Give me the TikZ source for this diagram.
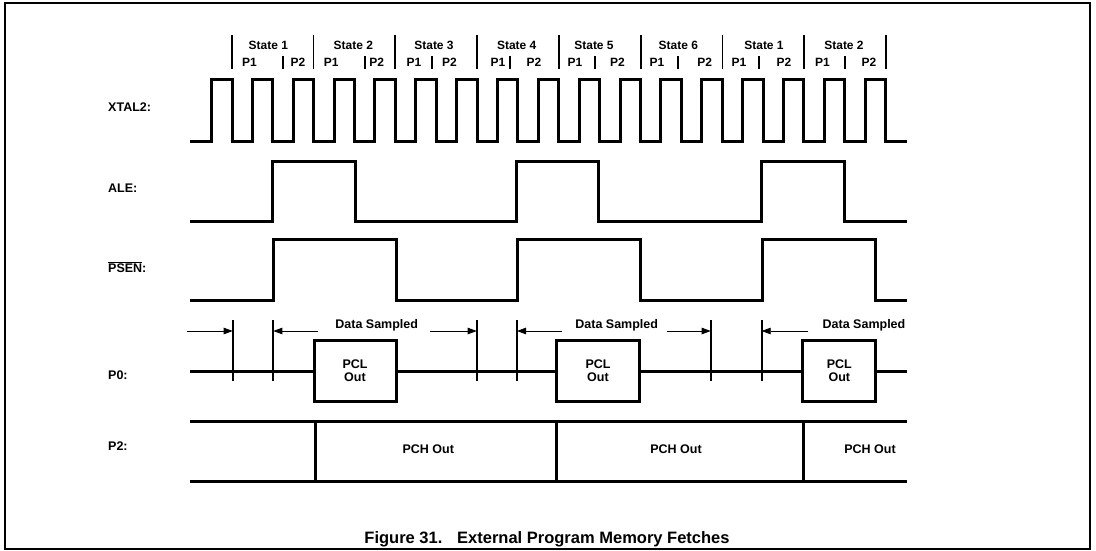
\documentclass[tikz,border=0pt]{standalone}
\usepackage{fontspec}
\setmainfont{Liberation Sans}
\usetikzlibrary{arrows.meta}
\begin{document}
\begin{tikzpicture}[x=1pt,y=-1pt,
  sig/.style={line width=3pt},
  frame/.style={line width=2pt},
  bar/.style={line width=1.8pt},
  tick/.style={line width=1.8pt},
  arr/.style={line width=0.8pt,-{Triangle[length=9pt,width=6.5pt]}},
  lbl/.style={font=\fontsize{12.5}{13}\selectfont\bfseries, inner sep=0pt},
  stlbl/.style={font=\fontsize{12}{13}\selectfont\bfseries, inner sep=0pt},
  captext/.style={font=\fontsize{16.5}{18}\selectfont\bfseries, inner sep=0pt},
  pclbox/.style={draw, line width=3pt, fill=white, minimum height=61pt, inner sep=0pt, align=center, font=\fontsize{12.5}{12.5}\selectfont\bfseries}]
\useasboundingbox (0,0) rectangle (1096,551);
% frame
\draw[frame] (5,3) rectangle (1090,549);
% state header
\foreach \i/\nm/\sc/\pa/\pb/\pc in {0/1/268.3/249.5/283.3/298,1/2/353.3/331.3/365/376.7,2/3/434/414/432.3/449.5,3/4/516.7/498/510/534,4/5/594/575/595/617.5,5/6/678.3/657/678.3/704.7,6/1/764/739/759.3/784,7/2/844/822.5/845/869}{
  \node[stlbl] (st\i) at (\sc,45) {State \nm};
  \node[stlbl] (pa\i) at (\pa,62) {P1};
  \node[stlbl] (pb\i) at (\pc,62) {P2};
  \draw[bar] (\pb,56) -- (\pb,69);
}
\foreach \i in {0,...,8}{
  \draw[bar] ({231.7+81.8*\i},35) -- ++(0,34);
}
% labels
\node[lbl,anchor=west] (lxtal) at (108,107) {XTAL2:};
\node[lbl,anchor=west] (lale) at (108,188) {ALE:};
\node[lbl,anchor=west] (lpsen) at (108,267) {$\overline{\hbox{PSEN}}$:};
\node[lbl,anchor=west] (lp0) at (108,375) {P0:};
\node[lbl,anchor=west] (lp2) at (108,446) {P2:};
% XTAL2
\draw[sig] (190,141) foreach \k in {0,...,16}{
  -- ({211.5+40.85*\k},141) -- ({211.5+40.85*\k},80) -- ({232+40.85*\k},80) -- ({232+40.85*\k},141)
} -- (907,141);
% ALE
\draw[sig] (190,221) -- (272.7,221) -- (272.7,161) -- (355.5,161) -- (355.5,221)
  -- (516.7,221) -- (516.7,161) -- (598,161) -- (598,221)
  -- (761.5,221) -- (761.5,161) -- (844,161) -- (844,221) -- (907,221);
% PSEN
\draw[sig] (190,300) -- (273.5,300) -- (273.5,239) -- (396,239) -- (396,300)
  -- (517,300) -- (517,239) -- (640,239) -- (640,300)
  -- (762,300) -- (762,239) -- (875,239) -- (875,300) -- (907,300);
% P0
\draw[sig] (190,371.7) -- (907,371.7);
\node[pclbox, minimum width=82pt] (pcl1) at (355,370.5) {PCL\\Out};
\node[pclbox, minimum width=82.6pt] (pcl2) at (598,370.5) {PCL\\Out};
\node[pclbox, minimum width=73.3pt] (pcl3) at (839.3,370.5) {PCL\\Out};
\foreach \n/\x in {1/232.7,2/273.3,3/476.7,4/517,5/710.7,6/761.7}{
  \draw[tick] (\x,320) -- (\x,381);
  \coordinate (t\n) at (\x,331);
}
\coordinate (a1) at (187,331);
\coordinate (a2) at (318,331);
\coordinate (a3) at (430,331);
\coordinate (a4) at (561.7,331);
\coordinate (a5) at (666.7,331);
\coordinate (a6) at (808.3,331);
\draw[arr] (a1) -- (t1);
\draw[arr] (a2) -- (t2);
\draw[arr] (a3) -- (t3);
\draw[arr] (a4) -- (t4);
\draw[arr] (a5) -- (t5);
\draw[arr] (a6) -- (t6);
\node[lbl] (ds1) at (376.7,325) {Data Sampled};
\node[lbl] (ds2) at (616.7,325) {Data Sampled};
\node[lbl] (ds3) at (864,325) {Data Sampled};
% P2
\draw[sig] (190,421) -- (907,421);
\draw[sig] (190,481) -- (907,481);
\foreach \x in {315,556.7,803}{
  \draw[sig] (\x,421) -- (\x,481);
}
\node[lbl] (pch1) at (428.3,449) {PCH Out};
\node[lbl] (pch2) at (676,449) {PCH Out};
\node[lbl] (pch3) at (870,449) {PCH Out};
% caption
\node[captext] (caption) at (547,539) {Figure 31.\hspace{0.9em}External Program Memory Fetches};
\end{tikzpicture}
\end{document}
